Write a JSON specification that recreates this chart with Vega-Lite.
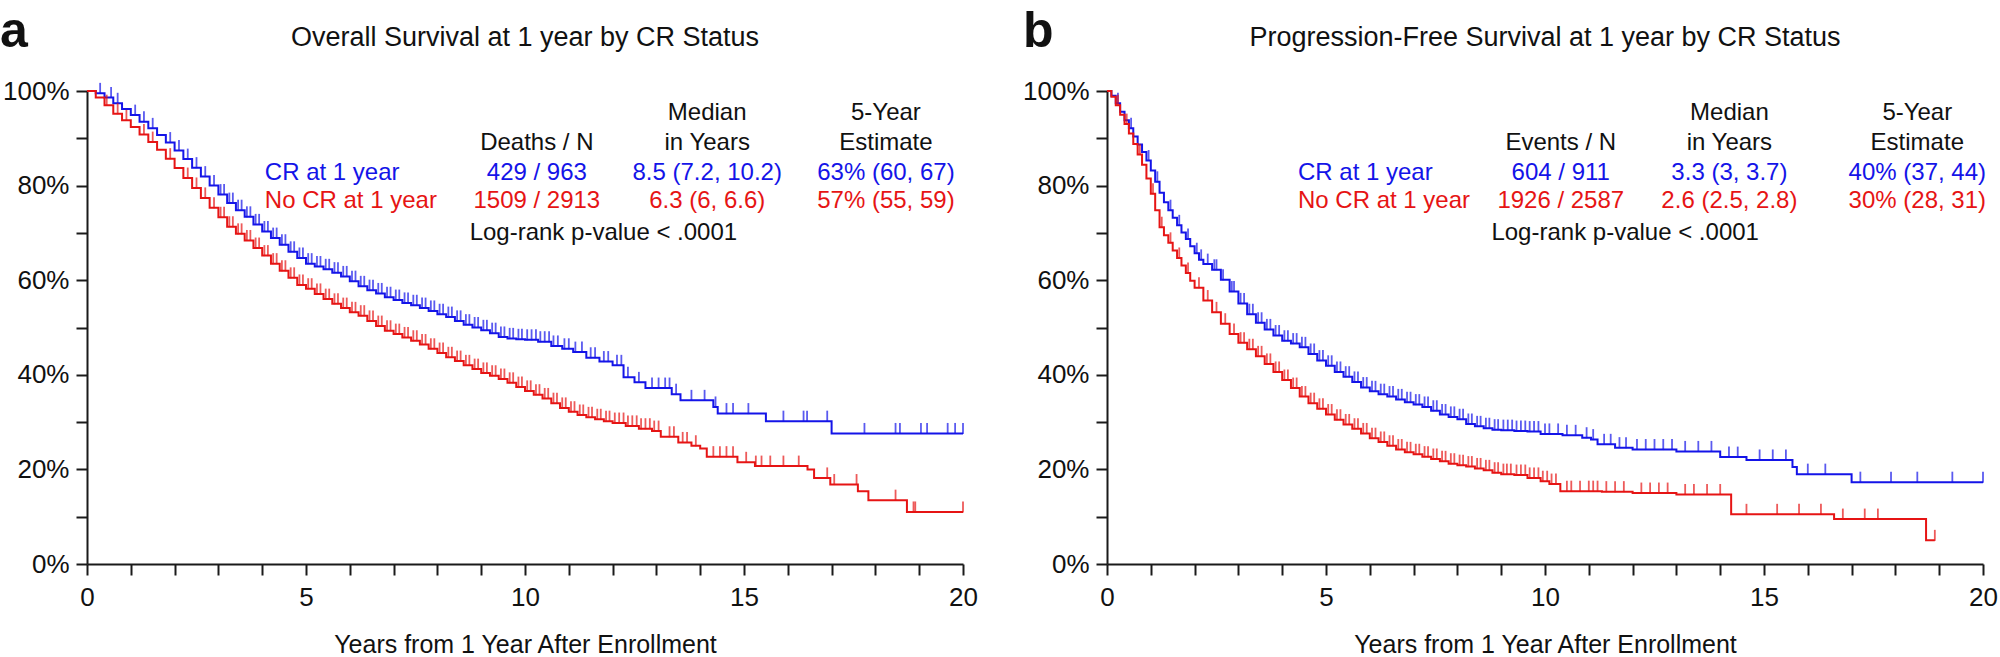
{
"$schema": "https://vega.github.io/schema/vega-lite/v6.json",
"padding": {"top": 6, "left": 0, "right": 0, "bottom": 0},
"background": "white",
"bounds": "flush",
"spacing": 144,
"config": {
  "font": "Liberation Sans",
  "view": {"stroke": null},
  "axis": {"grid": false, "domainColor": "#1a1a1a", "domainWidth": 2, "tickColor": "#1a1a1a", "tickWidth": 2, "tickSize": 11, "labelFont": "Liberation Sans", "labelFontSize": 26, "labelColor": "#111111", "titleFont": "Liberation Sans", "titleFontSize": 25, "titleFontWeight": "normal", "titleColor": "#111111", "labelPadding": 7, "labelOverlap": false, "labelFlush": false, "labelBound": false}
},
"datasets": {
  "os": [
    {"g":"CR","t":0,"s":100},{"g":"CR","t":0.2,"s":99.5},{"g":"CR","t":0.4,"s":98.6},{"g":"CR","t":0.6,"s":97.4},{"g":"CR","t":0.8,"s":96.2},{"g":"CR","t":1.0,"s":94.9},{"g":"CR","t":1.2,"s":93.5},{"g":"CR","t":1.4,"s":92.1},{"g":"CR","t":1.6,"s":90.7},{"g":"CR","t":1.8,"s":89.1},{"g":"CR","t":2.0,"s":87.4},{"g":"CR","t":2.2,"s":85.6},{"g":"CR","t":2.4,"s":83.8},{"g":"CR","t":2.6,"s":81.9},{"g":"CR","t":2.8,"s":80.0},{"g":"CR","t":3.0,"s":78.1},{"g":"CR","t":3.2,"s":76.3},{"g":"CR","t":3.4,"s":74.8},{"g":"CR","t":3.6,"s":73.4},{"g":"CR","t":3.8,"s":71.8},{"g":"CR","t":4.0,"s":70.3},{"g":"CR","t":4.2,"s":68.9},{"g":"CR","t":4.4,"s":67.5},{"g":"CR","t":4.6,"s":66.0},{"g":"CR","t":4.8,"s":64.7},{"g":"CR","t":5.0,"s":63.5},{"g":"CR","t":5.2,"s":62.9},{"g":"CR","t":5.4,"s":62.3},{"g":"CR","t":5.6,"s":61.6},{"g":"CR","t":5.8,"s":60.8},{"g":"CR","t":6.0,"s":59.8},{"g":"CR","t":6.2,"s":58.7},{"g":"CR","t":6.4,"s":57.9},{"g":"CR","t":6.6,"s":57.2},{"g":"CR","t":6.8,"s":56.4},{"g":"CR","t":7.0,"s":55.8},{"g":"CR","t":7.2,"s":55.2},{"g":"CR","t":7.4,"s":54.7},{"g":"CR","t":7.6,"s":54.1},{"g":"CR","t":7.8,"s":53.5},{"g":"CR","t":8.0,"s":52.8},{"g":"CR","t":8.2,"s":52.2},{"g":"CR","t":8.4,"s":51.4},{"g":"CR","t":8.6,"s":50.6},{"g":"CR","t":8.8,"s":50.0},{"g":"CR","t":9.0,"s":49.4},{"g":"CR","t":9.2,"s":48.8},{"g":"CR","t":9.4,"s":48.0},{"g":"CR","t":9.6,"s":47.7},{"g":"CR","t":9.8,"s":47.5},{"g":"CR","t":10.0,"s":47.4},{"g":"CR","t":10.3,"s":47.0},{"g":"CR","t":10.6,"s":46.1},{"g":"CR","t":10.85,"s":45.5},{"g":"CR","t":11.1,"s":44.8},{"g":"CR","t":11.4,"s":43.6},{"g":"CR","t":11.7,"s":42.8},{"g":"CR","t":12.0,"s":42.0},{"g":"CR","t":12.25,"s":39.5},{"g":"CR","t":12.5,"s":38.4},{"g":"CR","t":12.75,"s":37.2},{"g":"CR","t":13.35,"s":35.9},{"g":"CR","t":13.55,"s":34.6},{"g":"CR","t":14.3,"s":33.2},{"g":"CR","t":14.4,"s":31.8},{"g":"CR","t":15.5,"s":30.2},{"g":"CR","t":17.0,"s":27.6},{"g":"CR","t":20.0,"s":27.6},
    {"g":"NoCR","t":0,"s":100},{"g":"NoCR","t":0.2,"s":98.6},{"g":"NoCR","t":0.4,"s":97.0},{"g":"NoCR","t":0.6,"s":95.2},{"g":"NoCR","t":0.8,"s":93.8},{"g":"NoCR","t":1.0,"s":92.4},{"g":"NoCR","t":1.2,"s":90.8},{"g":"NoCR","t":1.4,"s":89.2},{"g":"NoCR","t":1.6,"s":87.6},{"g":"NoCR","t":1.8,"s":85.7},{"g":"NoCR","t":2.0,"s":83.7},{"g":"NoCR","t":2.2,"s":81.6},{"g":"NoCR","t":2.4,"s":79.5},{"g":"NoCR","t":2.6,"s":77.4},{"g":"NoCR","t":2.8,"s":75.3},{"g":"NoCR","t":3.0,"s":73.3},{"g":"NoCR","t":3.2,"s":71.3},{"g":"NoCR","t":3.4,"s":69.8},{"g":"NoCR","t":3.6,"s":68.4},{"g":"NoCR","t":3.8,"s":66.8},{"g":"NoCR","t":4.0,"s":65.2},{"g":"NoCR","t":4.2,"s":63.5},{"g":"NoCR","t":4.4,"s":62.0},{"g":"NoCR","t":4.6,"s":60.5},{"g":"NoCR","t":4.8,"s":59.0},{"g":"NoCR","t":5.0,"s":58.2},{"g":"NoCR","t":5.2,"s":57.1},{"g":"NoCR","t":5.4,"s":56.0},{"g":"NoCR","t":5.6,"s":55.0},{"g":"NoCR","t":5.8,"s":54.1},{"g":"NoCR","t":6.0,"s":53.2},{"g":"NoCR","t":6.2,"s":52.5},{"g":"NoCR","t":6.4,"s":51.4},{"g":"NoCR","t":6.6,"s":50.3},{"g":"NoCR","t":6.8,"s":49.3},{"g":"NoCR","t":7.0,"s":48.6},{"g":"NoCR","t":7.2,"s":47.9},{"g":"NoCR","t":7.4,"s":47.2},{"g":"NoCR","t":7.6,"s":46.4},{"g":"NoCR","t":7.8,"s":45.5},{"g":"NoCR","t":8.0,"s":44.6},{"g":"NoCR","t":8.2,"s":43.7},{"g":"NoCR","t":8.4,"s":42.9},{"g":"NoCR","t":8.6,"s":42.0},{"g":"NoCR","t":8.8,"s":41.2},{"g":"NoCR","t":9.0,"s":40.4},{"g":"NoCR","t":9.2,"s":39.8},{"g":"NoCR","t":9.4,"s":39.1},{"g":"NoCR","t":9.6,"s":38.3},{"g":"NoCR","t":9.8,"s":37.4},{"g":"NoCR","t":10.0,"s":36.6},{"g":"NoCR","t":10.2,"s":35.8},{"g":"NoCR","t":10.4,"s":35.0},{"g":"NoCR","t":10.6,"s":34.0},{"g":"NoCR","t":10.8,"s":33.0},{"g":"NoCR","t":11.0,"s":32.2},{"g":"NoCR","t":11.2,"s":31.5},{"g":"NoCR","t":11.4,"s":31.0},{"g":"NoCR","t":11.6,"s":30.6},{"g":"NoCR","t":11.8,"s":30.2},{"g":"NoCR","t":12.0,"s":29.8},{"g":"NoCR","t":12.3,"s":29.2},{"g":"NoCR","t":12.6,"s":28.6},{"g":"NoCR","t":12.9,"s":28.1},{"g":"NoCR","t":13.1,"s":26.9},{"g":"NoCR","t":13.5,"s":25.7},{"g":"NoCR","t":13.8,"s":25.0},{"g":"NoCR","t":14.0,"s":24.4},{"g":"NoCR","t":14.15,"s":22.7},{"g":"NoCR","t":14.85,"s":21.5},{"g":"NoCR","t":15.25,"s":20.7},{"g":"NoCR","t":16.45,"s":20.0},{"g":"NoCR","t":16.6,"s":18.2},{"g":"NoCR","t":16.97,"s":16.8},{"g":"NoCR","t":17.6,"s":15.4},{"g":"NoCR","t":17.84,"s":13.5},{"g":"NoCR","t":18.72,"s":11.0},{"g":"NoCR","t":20.0,"s":11.0}
  ],
  "os_c": [
    {"g":"CR","t":0.3,"s":99.5},{"g":"CR","t":0.55,"s":98.6},{"g":"CR","t":0.7,"s":97.4},{"g":"CR","t":1.1,"s":94.9},{"g":"CR","t":1.3,"s":93.5},{"g":"CR","t":1.5,"s":92.1},{"g":"CR","t":1.9,"s":89.1},{"g":"CR","t":2.1,"s":87.4},{"g":"CR","t":2.3,"s":85.6},{"g":"CR","t":2.5,"s":83.8},{"g":"CR","t":2.7,"s":81.9},{"g":"CR","t":2.9,"s":80.0},
    {"g":"CR","t":3.05,"s":78.1},{"g":"CR","t":3.13,"s":78.1},{"g":"CR","t":3.25,"s":76.3},{"g":"CR","t":3.33,"s":76.3},{"g":"CR","t":3.45,"s":74.8},{"g":"CR","t":3.53,"s":74.8},{"g":"CR","t":3.65,"s":73.4},{"g":"CR","t":3.73,"s":73.4},{"g":"CR","t":3.85,"s":71.8},{"g":"CR","t":3.93,"s":71.8},{"g":"CR","t":4.05,"s":70.3},{"g":"CR","t":4.13,"s":70.3},{"g":"CR","t":4.25,"s":68.9},{"g":"CR","t":4.33,"s":68.9},{"g":"CR","t":4.45,"s":67.5},{"g":"CR","t":4.53,"s":67.5},{"g":"CR","t":4.65,"s":66.0},{"g":"CR","t":4.73,"s":66.0},{"g":"CR","t":4.85,"s":64.7},{"g":"CR","t":4.93,"s":64.7},{"g":"CR","t":5.05,"s":63.5},{"g":"CR","t":5.13,"s":63.5},{"g":"CR","t":5.25,"s":62.9},{"g":"CR","t":5.33,"s":62.9},{"g":"CR","t":5.45,"s":62.3},{"g":"CR","t":5.53,"s":62.3},{"g":"CR","t":5.65,"s":61.6},{"g":"CR","t":5.73,"s":61.6},{"g":"CR","t":5.85,"s":60.8},{"g":"CR","t":5.93,"s":60.8},{"g":"CR","t":6.05,"s":59.8},{"g":"CR","t":6.13,"s":59.8},{"g":"CR","t":6.25,"s":58.7},{"g":"CR","t":6.33,"s":58.7},{"g":"CR","t":6.45,"s":57.9},{"g":"CR","t":6.53,"s":57.9},{"g":"CR","t":6.65,"s":57.2},{"g":"CR","t":6.73,"s":57.2},{"g":"CR","t":6.85,"s":56.4},{"g":"CR","t":6.93,"s":56.4},{"g":"CR","t":7.05,"s":55.8},{"g":"CR","t":7.13,"s":55.8},{"g":"CR","t":7.25,"s":55.2},{"g":"CR","t":7.33,"s":55.2},{"g":"CR","t":7.45,"s":54.7},{"g":"CR","t":7.53,"s":54.7},{"g":"CR","t":7.65,"s":54.1},{"g":"CR","t":7.73,"s":54.1},{"g":"CR","t":7.85,"s":53.5},{"g":"CR","t":7.93,"s":53.5},{"g":"CR","t":8.05,"s":52.8},{"g":"CR","t":8.13,"s":52.8},{"g":"CR","t":8.25,"s":52.2},{"g":"CR","t":8.33,"s":52.2},{"g":"CR","t":8.45,"s":51.4},{"g":"CR","t":8.53,"s":51.4},{"g":"CR","t":8.65,"s":50.6},{"g":"CR","t":8.73,"s":50.6},{"g":"CR","t":8.85,"s":50.0},{"g":"CR","t":8.93,"s":50.0},{"g":"CR","t":9.05,"s":49.4},{"g":"CR","t":9.13,"s":49.4},{"g":"CR","t":9.25,"s":48.8},{"g":"CR","t":9.33,"s":48.8},{"g":"CR","t":9.45,"s":48.0},{"g":"CR","t":9.53,"s":48.0},{"g":"CR","t":9.65,"s":47.7},{"g":"CR","t":9.73,"s":47.7},{"g":"CR","t":9.85,"s":47.5},{"g":"CR","t":9.93,"s":47.5},
    {"g":"CR","t":10.05,"s":47.4},{"g":"CR","t":10.15,"s":47.4},{"g":"CR","t":10.25,"s":47.4},{"g":"CR","t":10.35,"s":47.0},{"g":"CR","t":10.45,"s":47.0},{"g":"CR","t":10.55,"s":47.0},{"g":"CR","t":10.65,"s":46.1},{"g":"CR","t":10.75,"s":46.1},{"g":"CR","t":10.9,"s":45.5},{"g":"CR","t":11.0,"s":45.5},{"g":"CR","t":11.15,"s":44.8},{"g":"CR","t":11.3,"s":44.8},{"g":"CR","t":11.5,"s":43.6},{"g":"CR","t":11.6,"s":43.6},{"g":"CR","t":11.8,"s":42.8},{"g":"CR","t":11.9,"s":42.8},{"g":"CR","t":12.1,"s":42.0},{"g":"CR","t":12.2,"s":42.0},{"g":"CR","t":12.35,"s":39.5},{"g":"CR","t":12.6,"s":38.4},{"g":"CR","t":12.9,"s":37.2},{"g":"CR","t":13.05,"s":37.2},{"g":"CR","t":13.2,"s":37.2},{"g":"CR","t":13.3,"s":37.2},{"g":"CR","t":13.45,"s":35.9},{"g":"CR","t":13.8,"s":34.6},{"g":"CR","t":14.1,"s":34.6},{"g":"CR","t":14.35,"s":33.2},{"g":"CR","t":14.6,"s":31.8},{"g":"CR","t":14.75,"s":31.8},{"g":"CR","t":15.1,"s":31.8},{"g":"CR","t":15.9,"s":30.2},{"g":"CR","t":16.36,"s":30.2},{"g":"CR","t":16.44,"s":30.2},{"g":"CR","t":16.9,"s":30.2},{"g":"CR","t":17.75,"s":27.6},{"g":"CR","t":18.46,"s":27.6},{"g":"CR","t":18.56,"s":27.6},{"g":"CR","t":19.04,"s":27.6},{"g":"CR","t":19.18,"s":27.6},{"g":"CR","t":19.65,"s":27.6},{"g":"CR","t":19.82,"s":27.6},{"g":"CR","t":20.0,"s":27.6},
    {"g":"NoCR","t":0.45,"s":97.0},{"g":"NoCR","t":0.7,"s":95.2},{"g":"NoCR","t":0.9,"s":93.8},{"g":"NoCR","t":1.3,"s":90.8},{"g":"NoCR","t":1.5,"s":89.2},{"g":"NoCR","t":1.9,"s":85.7},{"g":"NoCR","t":2.3,"s":81.6},{"g":"NoCR","t":2.5,"s":79.5},{"g":"NoCR","t":2.7,"s":77.4},{"g":"NoCR","t":2.9,"s":75.3},
    {"g":"NoCR","t":3.05,"s":73.3},{"g":"NoCR","t":3.13,"s":73.3},{"g":"NoCR","t":3.25,"s":71.3},{"g":"NoCR","t":3.33,"s":71.3},{"g":"NoCR","t":3.45,"s":69.8},{"g":"NoCR","t":3.53,"s":69.8},{"g":"NoCR","t":3.65,"s":68.4},{"g":"NoCR","t":3.73,"s":68.4},{"g":"NoCR","t":3.85,"s":66.8},{"g":"NoCR","t":3.93,"s":66.8},{"g":"NoCR","t":4.05,"s":65.2},{"g":"NoCR","t":4.13,"s":65.2},{"g":"NoCR","t":4.25,"s":63.5},{"g":"NoCR","t":4.33,"s":63.5},{"g":"NoCR","t":4.45,"s":62.0},{"g":"NoCR","t":4.53,"s":62.0},{"g":"NoCR","t":4.65,"s":60.5},{"g":"NoCR","t":4.73,"s":60.5},{"g":"NoCR","t":4.85,"s":59.0},{"g":"NoCR","t":4.93,"s":59.0},{"g":"NoCR","t":5.05,"s":58.2},{"g":"NoCR","t":5.13,"s":58.2},{"g":"NoCR","t":5.25,"s":57.1},{"g":"NoCR","t":5.33,"s":57.1},{"g":"NoCR","t":5.45,"s":56.0},{"g":"NoCR","t":5.53,"s":56.0},{"g":"NoCR","t":5.65,"s":55.0},{"g":"NoCR","t":5.73,"s":55.0},{"g":"NoCR","t":5.85,"s":54.1},{"g":"NoCR","t":5.93,"s":54.1},{"g":"NoCR","t":6.05,"s":53.2},{"g":"NoCR","t":6.13,"s":53.2},{"g":"NoCR","t":6.25,"s":52.5},{"g":"NoCR","t":6.33,"s":52.5},{"g":"NoCR","t":6.45,"s":51.4},{"g":"NoCR","t":6.53,"s":51.4},{"g":"NoCR","t":6.65,"s":50.3},{"g":"NoCR","t":6.73,"s":50.3},{"g":"NoCR","t":6.85,"s":49.3},{"g":"NoCR","t":6.93,"s":49.3},{"g":"NoCR","t":7.05,"s":48.6},{"g":"NoCR","t":7.13,"s":48.6},{"g":"NoCR","t":7.25,"s":47.9},{"g":"NoCR","t":7.33,"s":47.9},{"g":"NoCR","t":7.45,"s":47.2},{"g":"NoCR","t":7.53,"s":47.2},{"g":"NoCR","t":7.65,"s":46.4},{"g":"NoCR","t":7.73,"s":46.4},{"g":"NoCR","t":7.85,"s":45.5},{"g":"NoCR","t":7.93,"s":45.5},{"g":"NoCR","t":8.05,"s":44.6},{"g":"NoCR","t":8.13,"s":44.6},{"g":"NoCR","t":8.25,"s":43.7},{"g":"NoCR","t":8.33,"s":43.7},{"g":"NoCR","t":8.45,"s":42.9},{"g":"NoCR","t":8.53,"s":42.9},{"g":"NoCR","t":8.65,"s":42.0},{"g":"NoCR","t":8.73,"s":42.0},{"g":"NoCR","t":8.85,"s":41.2},{"g":"NoCR","t":8.93,"s":41.2},{"g":"NoCR","t":9.05,"s":40.4},{"g":"NoCR","t":9.13,"s":40.4},{"g":"NoCR","t":9.25,"s":39.8},{"g":"NoCR","t":9.33,"s":39.8},{"g":"NoCR","t":9.45,"s":39.1},{"g":"NoCR","t":9.53,"s":39.1},{"g":"NoCR","t":9.65,"s":38.3},{"g":"NoCR","t":9.73,"s":38.3},{"g":"NoCR","t":9.85,"s":37.4},{"g":"NoCR","t":9.93,"s":37.4},{"g":"NoCR","t":10.05,"s":36.6},{"g":"NoCR","t":10.13,"s":36.6},{"g":"NoCR","t":10.25,"s":35.8},{"g":"NoCR","t":10.33,"s":35.8},{"g":"NoCR","t":10.45,"s":35.0},{"g":"NoCR","t":10.53,"s":35.0},{"g":"NoCR","t":10.65,"s":34.0},{"g":"NoCR","t":10.73,"s":34.0},{"g":"NoCR","t":10.85,"s":33.0},{"g":"NoCR","t":10.93,"s":33.0},{"g":"NoCR","t":11.05,"s":32.2},{"g":"NoCR","t":11.13,"s":32.2},{"g":"NoCR","t":11.25,"s":31.5},{"g":"NoCR","t":11.33,"s":31.5},{"g":"NoCR","t":11.45,"s":31.0},{"g":"NoCR","t":11.53,"s":31.0},{"g":"NoCR","t":11.65,"s":30.6},{"g":"NoCR","t":11.73,"s":30.6},{"g":"NoCR","t":11.85,"s":30.2},{"g":"NoCR","t":11.93,"s":30.2},
    {"g":"NoCR","t":12.05,"s":29.8},{"g":"NoCR","t":12.15,"s":29.8},{"g":"NoCR","t":12.25,"s":29.8},{"g":"NoCR","t":12.35,"s":29.2},{"g":"NoCR","t":12.45,"s":29.2},{"g":"NoCR","t":12.55,"s":29.2},{"g":"NoCR","t":12.65,"s":28.6},{"g":"NoCR","t":12.75,"s":28.6},{"g":"NoCR","t":12.85,"s":28.6},{"g":"NoCR","t":12.95,"s":28.1},{"g":"NoCR","t":13.05,"s":28.1},{"g":"NoCR","t":13.3,"s":26.9},{"g":"NoCR","t":13.4,"s":26.9},{"g":"NoCR","t":13.6,"s":25.7},{"g":"NoCR","t":13.7,"s":25.7},{"g":"NoCR","t":13.9,"s":25.0},{"g":"NoCR","t":14.3,"s":22.7},{"g":"NoCR","t":14.45,"s":22.7},{"g":"NoCR","t":14.6,"s":22.7},{"g":"NoCR","t":14.75,"s":22.7},{"g":"NoCR","t":15.05,"s":21.5},{"g":"NoCR","t":15.27,"s":20.7},{"g":"NoCR","t":15.4,"s":20.7},{"g":"NoCR","t":15.6,"s":20.7},{"g":"NoCR","t":15.9,"s":20.7},{"g":"NoCR","t":16.25,"s":20.7},{"g":"NoCR","t":16.9,"s":18.2},{"g":"NoCR","t":17.06,"s":16.8},{"g":"NoCR","t":17.57,"s":16.8},{"g":"NoCR","t":18.46,"s":13.5},{"g":"NoCR","t":18.87,"s":11.0},{"g":"NoCR","t":18.91,"s":11.0},{"g":"NoCR","t":20.0,"s":11.0}
  ],
  "pfs": [
    {"g":"CR","t":0,"s":100},{"g":"CR","t":0.1,"s":99.0},{"g":"CR","t":0.2,"s":97.4},{"g":"CR","t":0.3,"s":95.6},{"g":"CR","t":0.4,"s":93.8},{"g":"CR","t":0.5,"s":92.1},{"g":"CR","t":0.6,"s":90.4},{"g":"CR","t":0.7,"s":88.7},{"g":"CR","t":0.8,"s":87.1},{"g":"CR","t":0.9,"s":85.3},{"g":"CR","t":1.0,"s":83.2},{"g":"CR","t":1.1,"s":80.8},{"g":"CR","t":1.2,"s":78.5},{"g":"CR","t":1.3,"s":76.5},{"g":"CR","t":1.4,"s":74.8},{"g":"CR","t":1.5,"s":73.2},{"g":"CR","t":1.6,"s":71.6},{"g":"CR","t":1.7,"s":70.1},{"g":"CR","t":1.8,"s":68.7},{"g":"CR","t":1.9,"s":67.2},{"g":"CR","t":2.0,"s":65.7},{"g":"CR","t":2.1,"s":64.3},{"g":"CR","t":2.2,"s":63.4},{"g":"CR","t":2.4,"s":62.2},{"g":"CR","t":2.6,"s":60.1},{"g":"CR","t":2.8,"s":57.6},{"g":"CR","t":3.0,"s":55.1},{"g":"CR","t":3.2,"s":52.8},{"g":"CR","t":3.4,"s":51.0},{"g":"CR","t":3.6,"s":49.6},{"g":"CR","t":3.8,"s":48.3},{"g":"CR","t":4.0,"s":47.2},{"g":"CR","t":4.2,"s":46.6},{"g":"CR","t":4.4,"s":45.8},{"g":"CR","t":4.6,"s":44.4},{"g":"CR","t":4.8,"s":43.0},{"g":"CR","t":5.0,"s":41.9},{"g":"CR","t":5.2,"s":40.6},{"g":"CR","t":5.4,"s":39.6},{"g":"CR","t":5.6,"s":38.5},{"g":"CR","t":5.8,"s":37.3},{"g":"CR","t":6.0,"s":36.5},{"g":"CR","t":6.2,"s":35.9},{"g":"CR","t":6.4,"s":35.4},{"g":"CR","t":6.6,"s":34.8},{"g":"CR","t":6.8,"s":34.2},{"g":"CR","t":7.0,"s":33.7},{"g":"CR","t":7.2,"s":33.2},{"g":"CR","t":7.4,"s":32.4},{"g":"CR","t":7.6,"s":31.6},{"g":"CR","t":7.8,"s":31.1},{"g":"CR","t":8.0,"s":30.6},{"g":"CR","t":8.2,"s":29.6},{"g":"CR","t":8.4,"s":29.1},{"g":"CR","t":8.6,"s":28.7},{"g":"CR","t":8.8,"s":28.4},{"g":"CR","t":9.0,"s":28.3},{"g":"CR","t":9.3,"s":28.1},{"g":"CR","t":9.6,"s":28.0},{"g":"CR","t":9.9,"s":27.5},{"g":"CR","t":10.4,"s":27.2},{"g":"CR","t":10.85,"s":26.7},{"g":"CR","t":11.05,"s":26.3},{"g":"CR","t":11.2,"s":25.3},{"g":"CR","t":11.6,"s":24.6},{"g":"CR","t":12.0,"s":24.2},{"g":"CR","t":13.0,"s":23.8},{"g":"CR","t":14.0,"s":22.6},{"g":"CR","t":14.6,"s":22.0},{"g":"CR","t":15.65,"s":20.5},{"g":"CR","t":15.75,"s":19.0},{"g":"CR","t":17.0,"s":17.3},{"g":"CR","t":20.0,"s":17.3},
    {"g":"NoCR","t":0,"s":100},{"g":"NoCR","t":0.1,"s":98.8},{"g":"NoCR","t":0.2,"s":97.0},{"g":"NoCR","t":0.3,"s":95.0},{"g":"NoCR","t":0.4,"s":93.0},{"g":"NoCR","t":0.5,"s":91.0},{"g":"NoCR","t":0.6,"s":88.8},{"g":"NoCR","t":0.7,"s":86.6},{"g":"NoCR","t":0.8,"s":84.4},{"g":"NoCR","t":0.9,"s":81.5},{"g":"NoCR","t":1.0,"s":78.3},{"g":"NoCR","t":1.1,"s":74.8},{"g":"NoCR","t":1.2,"s":71.2},{"g":"NoCR","t":1.3,"s":69.5},{"g":"NoCR","t":1.4,"s":67.9},{"g":"NoCR","t":1.5,"s":66.3},{"g":"NoCR","t":1.6,"s":64.7},{"g":"NoCR","t":1.7,"s":63.1},{"g":"NoCR","t":1.8,"s":61.5},{"g":"NoCR","t":1.9,"s":59.9},{"g":"NoCR","t":2.0,"s":58.4},{"g":"NoCR","t":2.2,"s":55.7},{"g":"NoCR","t":2.4,"s":53.2},{"g":"NoCR","t":2.6,"s":50.8},{"g":"NoCR","t":2.8,"s":48.6},{"g":"NoCR","t":3.0,"s":46.8},{"g":"NoCR","t":3.2,"s":45.4},{"g":"NoCR","t":3.4,"s":43.9},{"g":"NoCR","t":3.6,"s":42.3},{"g":"NoCR","t":3.8,"s":40.6},{"g":"NoCR","t":4.0,"s":38.9},{"g":"NoCR","t":4.2,"s":37.2},{"g":"NoCR","t":4.4,"s":35.4},{"g":"NoCR","t":4.6,"s":34.0},{"g":"NoCR","t":4.8,"s":32.8},{"g":"NoCR","t":5.0,"s":31.6},{"g":"NoCR","t":5.2,"s":30.5},{"g":"NoCR","t":5.4,"s":29.5},{"g":"NoCR","t":5.6,"s":28.6},{"g":"NoCR","t":5.8,"s":27.6},{"g":"NoCR","t":6.0,"s":26.6},{"g":"NoCR","t":6.2,"s":25.8},{"g":"NoCR","t":6.4,"s":25.0},{"g":"NoCR","t":6.6,"s":24.2},{"g":"NoCR","t":6.8,"s":23.6},{"g":"NoCR","t":7.0,"s":23.2},{"g":"NoCR","t":7.2,"s":22.7},{"g":"NoCR","t":7.4,"s":22.2},{"g":"NoCR","t":7.6,"s":21.7},{"g":"NoCR","t":7.8,"s":21.2},{"g":"NoCR","t":8.0,"s":20.9},{"g":"NoCR","t":8.2,"s":20.6},{"g":"NoCR","t":8.4,"s":20.2},{"g":"NoCR","t":8.6,"s":19.8},{"g":"NoCR","t":8.8,"s":19.3},{"g":"NoCR","t":9.0,"s":19.0},{"g":"NoCR","t":9.3,"s":18.8},{"g":"NoCR","t":9.6,"s":18.2},{"g":"NoCR","t":9.9,"s":17.5},{"g":"NoCR","t":10.1,"s":16.9},{"g":"NoCR","t":10.35,"s":15.4},{"g":"NoCR","t":11.3,"s":15.3},{"g":"NoCR","t":12.0,"s":15.0},{"g":"NoCR","t":13.0,"s":14.7},{"g":"NoCR","t":14.25,"s":10.5},{"g":"NoCR","t":16.6,"s":9.5},{"g":"NoCR","t":18.7,"s":5.0},{"g":"NoCR","t":18.9,"s":5.0}
  ],
  "pfs_c": [
    {"g":"CR","t":0.25,"s":97.4},{"g":"CR","t":0.55,"s":92.1},{"g":"CR","t":0.95,"s":85.3},{"g":"CR","t":1.15,"s":80.8},{"g":"CR","t":1.45,"s":74.8},{"g":"CR","t":1.65,"s":71.6},{"g":"CR","t":1.85,"s":68.7},{"g":"CR","t":2.05,"s":65.7},{"g":"CR","t":2.15,"s":64.3},{"g":"CR","t":2.3,"s":63.4},{"g":"CR","t":2.45,"s":62.2},{"g":"CR","t":2.5,"s":62.2},{"g":"CR","t":2.65,"s":60.1},{"g":"CR","t":2.85,"s":57.6},{"g":"CR","t":2.9,"s":57.6},
    {"g":"CR","t":3.05,"s":55.1},{"g":"CR","t":3.13,"s":55.1},{"g":"CR","t":3.25,"s":52.8},{"g":"CR","t":3.33,"s":52.8},{"g":"CR","t":3.45,"s":51.0},{"g":"CR","t":3.53,"s":51.0},{"g":"CR","t":3.65,"s":49.6},{"g":"CR","t":3.73,"s":49.6},{"g":"CR","t":3.85,"s":48.3},{"g":"CR","t":3.93,"s":48.3},{"g":"CR","t":4.05,"s":47.2},{"g":"CR","t":4.13,"s":47.2},{"g":"CR","t":4.25,"s":46.6},{"g":"CR","t":4.33,"s":46.6},{"g":"CR","t":4.45,"s":45.8},{"g":"CR","t":4.53,"s":45.8},{"g":"CR","t":4.65,"s":44.4},{"g":"CR","t":4.73,"s":44.4},{"g":"CR","t":4.85,"s":43.0},{"g":"CR","t":4.93,"s":43.0},{"g":"CR","t":5.05,"s":41.9},{"g":"CR","t":5.13,"s":41.9},{"g":"CR","t":5.25,"s":40.6},{"g":"CR","t":5.33,"s":40.6},{"g":"CR","t":5.45,"s":39.6},{"g":"CR","t":5.53,"s":39.6},{"g":"CR","t":5.65,"s":38.5},{"g":"CR","t":5.73,"s":38.5},{"g":"CR","t":5.85,"s":37.3},{"g":"CR","t":5.93,"s":37.3},{"g":"CR","t":6.05,"s":36.5},{"g":"CR","t":6.13,"s":36.5},{"g":"CR","t":6.25,"s":35.9},{"g":"CR","t":6.33,"s":35.9},{"g":"CR","t":6.45,"s":35.4},{"g":"CR","t":6.53,"s":35.4},{"g":"CR","t":6.65,"s":34.8},{"g":"CR","t":6.73,"s":34.8},{"g":"CR","t":6.85,"s":34.2},{"g":"CR","t":6.93,"s":34.2},{"g":"CR","t":7.05,"s":33.7},{"g":"CR","t":7.13,"s":33.7},{"g":"CR","t":7.25,"s":33.2},{"g":"CR","t":7.33,"s":33.2},{"g":"CR","t":7.45,"s":32.4},{"g":"CR","t":7.53,"s":32.4},{"g":"CR","t":7.65,"s":31.6},{"g":"CR","t":7.73,"s":31.6},{"g":"CR","t":7.85,"s":31.1},{"g":"CR","t":7.93,"s":31.1},{"g":"CR","t":8.05,"s":30.6},{"g":"CR","t":8.13,"s":30.6},{"g":"CR","t":8.25,"s":29.6},{"g":"CR","t":8.33,"s":29.6},{"g":"CR","t":8.45,"s":29.1},{"g":"CR","t":8.53,"s":29.1},{"g":"CR","t":8.65,"s":28.7},{"g":"CR","t":8.73,"s":28.7},{"g":"CR","t":8.85,"s":28.4},{"g":"CR","t":8.93,"s":28.4},
    {"g":"CR","t":9.05,"s":28.3},{"g":"CR","t":9.15,"s":28.3},{"g":"CR","t":9.25,"s":28.3},{"g":"CR","t":9.35,"s":28.1},{"g":"CR","t":9.45,"s":28.1},{"g":"CR","t":9.55,"s":28.1},{"g":"CR","t":9.65,"s":28.0},{"g":"CR","t":9.75,"s":28.0},{"g":"CR","t":9.85,"s":28.0},{"g":"CR","t":10.0,"s":27.5},{"g":"CR","t":10.1,"s":27.5},{"g":"CR","t":10.3,"s":27.5},{"g":"CR","t":10.5,"s":27.2},{"g":"CR","t":10.7,"s":27.2},{"g":"CR","t":10.95,"s":26.7},{"g":"CR","t":11.1,"s":26.3},{"g":"CR","t":11.35,"s":25.3},{"g":"CR","t":11.5,"s":25.3},{"g":"CR","t":11.7,"s":24.6},{"g":"CR","t":11.85,"s":24.6},{"g":"CR","t":12.1,"s":24.2},{"g":"CR","t":12.3,"s":24.2},{"g":"CR","t":12.5,"s":24.2},{"g":"CR","t":12.7,"s":24.2},{"g":"CR","t":12.9,"s":24.2},{"g":"CR","t":13.2,"s":23.8},{"g":"CR","t":13.5,"s":23.8},{"g":"CR","t":13.8,"s":23.8},{"g":"CR","t":14.2,"s":22.6},{"g":"CR","t":14.4,"s":22.6},{"g":"CR","t":14.9,"s":22.0},{"g":"CR","t":15.2,"s":22.0},{"g":"CR","t":15.5,"s":22.0},{"g":"CR","t":16.0,"s":19.0},{"g":"CR","t":16.4,"s":19.0},{"g":"CR","t":17.2,"s":17.3},{"g":"CR","t":17.9,"s":17.3},{"g":"CR","t":18.5,"s":17.3},{"g":"CR","t":19.3,"s":17.3},{"g":"CR","t":20.0,"s":17.3},
    {"g":"NoCR","t":0.25,"s":97.0},{"g":"NoCR","t":0.45,"s":93.0},{"g":"NoCR","t":0.75,"s":86.6},{"g":"NoCR","t":1.05,"s":78.3},{"g":"NoCR","t":1.25,"s":71.2},{"g":"NoCR","t":1.45,"s":67.9},{"g":"NoCR","t":1.65,"s":64.7},{"g":"NoCR","t":1.85,"s":61.5},{"g":"NoCR","t":2.1,"s":58.4},{"g":"NoCR","t":2.3,"s":55.7},{"g":"NoCR","t":2.5,"s":53.2},{"g":"NoCR","t":2.7,"s":50.8},{"g":"NoCR","t":2.9,"s":48.6},
    {"g":"NoCR","t":3.05,"s":46.8},{"g":"NoCR","t":3.13,"s":46.8},{"g":"NoCR","t":3.25,"s":45.4},{"g":"NoCR","t":3.33,"s":45.4},{"g":"NoCR","t":3.45,"s":43.9},{"g":"NoCR","t":3.53,"s":43.9},{"g":"NoCR","t":3.65,"s":42.3},{"g":"NoCR","t":3.73,"s":42.3},{"g":"NoCR","t":3.85,"s":40.6},{"g":"NoCR","t":3.93,"s":40.6},{"g":"NoCR","t":4.05,"s":38.9},{"g":"NoCR","t":4.13,"s":38.9},{"g":"NoCR","t":4.25,"s":37.2},{"g":"NoCR","t":4.33,"s":37.2},{"g":"NoCR","t":4.45,"s":35.4},{"g":"NoCR","t":4.53,"s":35.4},{"g":"NoCR","t":4.65,"s":34.0},{"g":"NoCR","t":4.73,"s":34.0},{"g":"NoCR","t":4.85,"s":32.8},{"g":"NoCR","t":4.93,"s":32.8},{"g":"NoCR","t":5.05,"s":31.6},{"g":"NoCR","t":5.13,"s":31.6},{"g":"NoCR","t":5.25,"s":30.5},{"g":"NoCR","t":5.33,"s":30.5},{"g":"NoCR","t":5.45,"s":29.5},{"g":"NoCR","t":5.53,"s":29.5},{"g":"NoCR","t":5.65,"s":28.6},{"g":"NoCR","t":5.73,"s":28.6},{"g":"NoCR","t":5.85,"s":27.6},{"g":"NoCR","t":5.93,"s":27.6},{"g":"NoCR","t":6.05,"s":26.6},{"g":"NoCR","t":6.13,"s":26.6},{"g":"NoCR","t":6.25,"s":25.8},{"g":"NoCR","t":6.33,"s":25.8},{"g":"NoCR","t":6.45,"s":25.0},{"g":"NoCR","t":6.53,"s":25.0},{"g":"NoCR","t":6.65,"s":24.2},{"g":"NoCR","t":6.73,"s":24.2},{"g":"NoCR","t":6.85,"s":23.6},{"g":"NoCR","t":6.93,"s":23.6},{"g":"NoCR","t":7.05,"s":23.2},{"g":"NoCR","t":7.13,"s":23.2},{"g":"NoCR","t":7.25,"s":22.7},{"g":"NoCR","t":7.33,"s":22.7},{"g":"NoCR","t":7.45,"s":22.2},{"g":"NoCR","t":7.53,"s":22.2},{"g":"NoCR","t":7.65,"s":21.7},{"g":"NoCR","t":7.73,"s":21.7},{"g":"NoCR","t":7.85,"s":21.2},{"g":"NoCR","t":7.93,"s":21.2},{"g":"NoCR","t":8.05,"s":20.9},{"g":"NoCR","t":8.13,"s":20.9},{"g":"NoCR","t":8.25,"s":20.6},{"g":"NoCR","t":8.33,"s":20.6},{"g":"NoCR","t":8.45,"s":20.2},{"g":"NoCR","t":8.53,"s":20.2},{"g":"NoCR","t":8.65,"s":19.8},{"g":"NoCR","t":8.73,"s":19.8},{"g":"NoCR","t":8.85,"s":19.3},{"g":"NoCR","t":8.93,"s":19.3},{"g":"NoCR","t":9.05,"s":19.0},{"g":"NoCR","t":9.13,"s":19.0},{"g":"NoCR","t":9.22,"s":19.0},
    {"g":"NoCR","t":9.35,"s":18.8},{"g":"NoCR","t":9.45,"s":18.8},{"g":"NoCR","t":9.55,"s":18.8},{"g":"NoCR","t":9.65,"s":18.2},{"g":"NoCR","t":9.75,"s":18.2},{"g":"NoCR","t":9.85,"s":18.2},{"g":"NoCR","t":9.95,"s":17.5},{"g":"NoCR","t":10.05,"s":17.5},{"g":"NoCR","t":10.15,"s":16.9},{"g":"NoCR","t":10.25,"s":16.9},{"g":"NoCR","t":10.5,"s":15.4},{"g":"NoCR","t":10.6,"s":15.4},{"g":"NoCR","t":10.8,"s":15.4},{"g":"NoCR","t":11.0,"s":15.4},{"g":"NoCR","t":11.1,"s":15.4},{"g":"NoCR","t":11.2,"s":15.4},{"g":"NoCR","t":11.4,"s":15.3},{"g":"NoCR","t":11.6,"s":15.3},{"g":"NoCR","t":11.8,"s":15.3},{"g":"NoCR","t":12.2,"s":15.0},{"g":"NoCR","t":12.4,"s":15.0},{"g":"NoCR","t":12.6,"s":15.0},{"g":"NoCR","t":12.8,"s":15.0},{"g":"NoCR","t":13.2,"s":14.7},{"g":"NoCR","t":13.4,"s":14.7},{"g":"NoCR","t":13.7,"s":14.7},{"g":"NoCR","t":14.0,"s":14.7},{"g":"NoCR","t":14.6,"s":10.5},{"g":"NoCR","t":15.3,"s":10.5},{"g":"NoCR","t":15.8,"s":10.5},{"g":"NoCR","t":16.3,"s":10.5},{"g":"NoCR","t":16.8,"s":9.5},{"g":"NoCR","t":17.3,"s":9.5},{"g":"NoCR","t":17.6,"s":9.5},{"g":"NoCR","t":18.9,"s":5.0}
  ],
  "os_tab": [
    {"txt":"Median","t":14.16,"s":95.3,"g":"hdr"},{"txt":"5-Year","t":18.24,"s":95.3,"g":"hdr"},
    {"txt":"Deaths / N","t":10.27,"s":89.0,"g":"hdr"},{"txt":"in Years","t":14.16,"s":89.0,"g":"hdr"},{"txt":"Estimate","t":18.24,"s":89.0,"g":"hdr"},
    {"txt":"429 / 963","t":10.27,"s":82.7,"g":"CR"},{"txt":"8.5 (7.2, 10.2)","t":14.16,"s":82.7,"g":"CR"},{"txt":"63% (60, 67)","t":18.24,"s":82.7,"g":"CR"},
    {"txt":"1509 / 2913","t":10.27,"s":76.7,"g":"NoCR"},{"txt":"6.3 (6, 6.6)","t":14.16,"s":76.7,"g":"NoCR"},{"txt":"57% (55, 59)","t":18.24,"s":76.7,"g":"NoCR"},
    {"txt":"Log-rank p-value < .0001","t":11.79,"s":70.0,"g":"hdr"}
  ],
  "os_lab": [
    {"txt":"CR at 1 year","t":4.06,"s":82.7,"g":"CR"},{"txt":"No CR at 1 year","t":4.06,"s":76.7,"g":"NoCR"}
  ],
  "os_ttl": [{"txt":"Overall Survival at 1 year by CR Status","t":10,"s":109.5,"g":"hdr"}],
  "os_let": [{"txt":"a","t":-1.986,"s":117.76,"g":"hdr"}],
  "pfs_tab": [
    {"txt":"Median","t":14.21,"s":95.3,"g":"hdr"},{"txt":"5-Year","t":18.5,"s":95.3,"g":"hdr"},
    {"txt":"Events / N","t":10.36,"s":89.0,"g":"hdr"},{"txt":"in Years","t":14.21,"s":89.0,"g":"hdr"},{"txt":"Estimate","t":18.5,"s":89.0,"g":"hdr"},
    {"txt":"604 / 911","t":10.36,"s":82.7,"g":"CR"},{"txt":"3.3 (3, 3.7)","t":14.21,"s":82.7,"g":"CR"},{"txt":"40% (37, 44)","t":18.5,"s":82.7,"g":"CR"},
    {"txt":"1926 / 2587","t":10.36,"s":76.7,"g":"NoCR"},{"txt":"2.6 (2.5, 2.8)","t":14.21,"s":76.7,"g":"NoCR"},{"txt":"30% (28, 31)","t":18.5,"s":76.7,"g":"NoCR"},
    {"txt":"Log-rank p-value < .0001","t":11.83,"s":70.0,"g":"hdr"}
  ],
  "pfs_lab": [
    {"txt":"CR at 1 year","t":4.36,"s":82.7,"g":"CR"},{"txt":"No CR at 1 year","t":4.36,"s":76.7,"g":"NoCR"}
  ],
  "pfs_ttl": [{"txt":"Progression-Free Survival at 1 year by CR Status","t":10,"s":109.5,"g":"hdr"}],
  "pfs_let": [{"txt":"b","t":-1.918,"s":117.76,"g":"hdr"}]
},
"hconcat": [
  {
    "width": 876, "height": 473,
    "encoding": {
      "x": {"field":"t","type":"quantitative","scale":{"domain":[0,20],"nice":false},"axis":{"values":[0,1,2,3,4,5,6,7,8,9,10,11,12,13,14,15,16,17,18,19,20],"labelExpr":"datum.value % 5 === 0 ? datum.label : ''","title":"Years from 1 Year After Enrollment","labelPadding":9,"titlePadding":22}},
      "y": {"field":"s","type":"quantitative","scale":{"domain":[0,100],"nice":false},"axis":{"values":[0,10,20,30,40,50,60,70,80,90,100],"labelExpr":"datum.value % 20 === 0 ? datum.value + '%' : ''","title":null}},
      "color": {"field":"g","type":"nominal","scale":{"domain":["CR","NoCR","hdr"],"range":["#1414e8","#e61414","#111111"]},"legend":null}
    },
    "layer": [
      {"data":{"name":"os"},"mark":{"type":"line","interpolate":"step-after","strokeWidth":2}},
      {"data":{"name":"os_c"},"mark":{"type":"tick","orient":"vertical","size":11,"thickness":1.8,"yOffset":-5}},
      {"data":{"name":"os_tab"},"mark":{"type":"text","fontSize":24,"align":"center","baseline":"middle"},"encoding":{"text":{"field":"txt"}}},
      {"data":{"name":"os_lab"},"mark":{"type":"text","fontSize":24,"align":"left","baseline":"middle"},"encoding":{"text":{"field":"txt"}}},
      {"data":{"name":"os_ttl"},"mark":{"type":"text","fontSize":27,"align":"center","baseline":"alphabetic"},"encoding":{"text":{"field":"txt"}}},
      {"data":{"name":"os_let"},"mark":{"type":"text","fontSize":50,"fontWeight":"bold","align":"left","baseline":"top"},"encoding":{"text":{"field":"txt"}}}
    ]
  },
  {
    "width": 876, "height": 473,
    "encoding": {
      "x": {"field":"t","type":"quantitative","scale":{"domain":[0,20],"nice":false},"axis":{"values":[0,1,2,3,4,5,6,7,8,9,10,11,12,13,14,15,16,17,18,19,20],"labelExpr":"datum.value % 5 === 0 ? datum.label : ''","title":"Years from 1 Year After Enrollment","labelPadding":9,"titlePadding":22}},
      "y": {"field":"s","type":"quantitative","scale":{"domain":[0,100],"nice":false},"axis":{"values":[0,10,20,30,40,50,60,70,80,90,100],"labelExpr":"datum.value % 20 === 0 ? datum.value + '%' : ''","title":null}},
      "color": {"field":"g","type":"nominal","scale":{"domain":["CR","NoCR","hdr"],"range":["#1414e8","#e61414","#111111"]},"legend":null}
    },
    "layer": [
      {"data":{"name":"pfs"},"mark":{"type":"line","interpolate":"step-after","strokeWidth":2}},
      {"data":{"name":"pfs_c"},"mark":{"type":"tick","orient":"vertical","size":11,"thickness":1.8,"yOffset":-5}},
      {"data":{"name":"pfs_tab"},"mark":{"type":"text","fontSize":24,"align":"center","baseline":"middle"},"encoding":{"text":{"field":"txt"}}},
      {"data":{"name":"pfs_lab"},"mark":{"type":"text","fontSize":24,"align":"left","baseline":"middle"},"encoding":{"text":{"field":"txt"}}},
      {"data":{"name":"pfs_ttl"},"mark":{"type":"text","fontSize":27,"align":"center","baseline":"alphabetic"},"encoding":{"text":{"field":"txt"}}},
      {"data":{"name":"pfs_let"},"mark":{"type":"text","fontSize":50,"fontWeight":"bold","align":"left","baseline":"top"},"encoding":{"text":{"field":"txt"}}}
    ]
  }
]
}
